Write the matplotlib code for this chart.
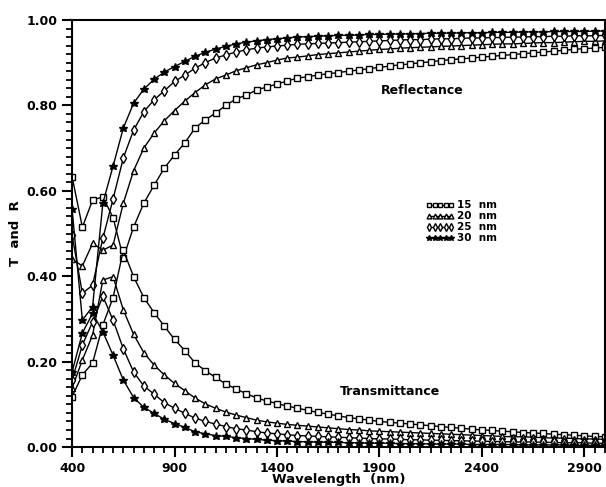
import matplotlib
matplotlib.use("Agg")
import matplotlib.pyplot as plt
import numpy as np

# wavelength grid (nm), one point every 50 nm
wavelength = np.arange(400, 3001, 50)

# reflectance, film thickness 15 / 20 / 25 / 30 nm
r_15 = [0.633, 0.515, 0.578, 0.586, 0.537, 0.443, 0.515, 0.571, 0.613, 0.653,
        0.684, 0.712, 0.747, 0.766, 0.782, 0.800, 0.815, 0.824, 0.836, 0.843,
        0.850, 0.857, 0.864, 0.867, 0.871, 0.874, 0.877, 0.880, 0.883, 0.886,
        0.889, 0.892, 0.895, 0.897, 0.900, 0.902, 0.905, 0.907, 0.909, 0.911,
        0.913, 0.915, 0.917, 0.919, 0.921, 0.923, 0.925, 0.927, 0.929, 0.931,
        0.933, 0.934, 0.936]
r_20 = [0.440, 0.424, 0.477, 0.461, 0.473, 0.571, 0.647, 0.700, 0.735, 0.764,
        0.788, 0.810, 0.830, 0.848, 0.862, 0.871, 0.881, 0.888, 0.895, 0.900,
        0.906, 0.911, 0.913, 0.916, 0.919, 0.921, 0.923, 0.925, 0.927, 0.929,
        0.931, 0.932, 0.934, 0.935, 0.936, 0.937, 0.938, 0.939, 0.940, 0.941,
        0.942, 0.943, 0.944, 0.944, 0.945, 0.946, 0.947, 0.947, 0.948, 0.949,
        0.950, 0.950, 0.951]
r_25 = [0.496, 0.360, 0.379, 0.489, 0.581, 0.677, 0.742, 0.785, 0.813, 0.834,
        0.856, 0.871, 0.887, 0.900, 0.911, 0.918, 0.925, 0.930, 0.934, 0.937,
        0.939, 0.941, 0.943, 0.944, 0.945, 0.946, 0.947, 0.948, 0.949, 0.950,
        0.951, 0.952, 0.953, 0.954, 0.954, 0.955, 0.956, 0.956, 0.957, 0.958,
        0.958, 0.959, 0.959, 0.960, 0.960, 0.961, 0.961, 0.962, 0.962, 0.963,
        0.963, 0.963, 0.964]
r_30 = [0.557, 0.297, 0.329, 0.571, 0.658, 0.747, 0.805, 0.838, 0.861, 0.878,
        0.891, 0.903, 0.915, 0.924, 0.932, 0.938, 0.944, 0.948, 0.951, 0.954,
        0.956, 0.958, 0.960, 0.961, 0.962, 0.963, 0.964, 0.964, 0.965, 0.966,
        0.966, 0.967, 0.967, 0.968, 0.968, 0.969, 0.969, 0.969, 0.970, 0.970,
        0.970, 0.971, 0.971, 0.971, 0.972, 0.972, 0.972, 0.973, 0.973, 0.973,
        0.973, 0.974, 0.974]

# transmittance, same thicknesses
t_15 = [0.118, 0.169, 0.197, 0.286, 0.350, 0.461, 0.399, 0.350, 0.315, 0.283,
        0.252, 0.226, 0.197, 0.179, 0.163, 0.148, 0.136, 0.125, 0.115, 0.108,
        0.102, 0.096, 0.091, 0.086, 0.081, 0.077, 0.073, 0.069, 0.066, 0.063,
        0.060, 0.058, 0.056, 0.054, 0.052, 0.050, 0.048, 0.046, 0.044, 0.042,
        0.040, 0.039, 0.037, 0.036, 0.034, 0.033, 0.032, 0.030, 0.029, 0.028,
        0.026, 0.025, 0.024]
t_20 = [0.138, 0.204, 0.262, 0.391, 0.399, 0.321, 0.264, 0.221, 0.192, 0.169,
        0.149, 0.132, 0.115, 0.101, 0.091, 0.082, 0.075, 0.069, 0.063, 0.059,
        0.056, 0.053, 0.051, 0.049, 0.047, 0.045, 0.043, 0.041, 0.040, 0.038,
        0.037, 0.036, 0.035, 0.034, 0.033, 0.032, 0.031, 0.030, 0.029, 0.028,
        0.027, 0.026, 0.025, 0.024, 0.024, 0.023, 0.022, 0.021, 0.021, 0.020,
        0.019, 0.019, 0.018]
t_25 = [0.157, 0.239, 0.293, 0.353, 0.297, 0.230, 0.176, 0.143, 0.124, 0.104,
        0.091, 0.079, 0.068, 0.060, 0.054, 0.048, 0.043, 0.040, 0.036, 0.033,
        0.031, 0.029, 0.027, 0.026, 0.025, 0.024, 0.023, 0.022, 0.021, 0.020,
        0.019, 0.019, 0.018, 0.017, 0.017, 0.016, 0.016, 0.015, 0.015, 0.014,
        0.014, 0.013, 0.013, 0.012, 0.012, 0.012, 0.011, 0.011, 0.010, 0.010,
        0.010, 0.009, 0.009]
t_30 = [0.176, 0.267, 0.313, 0.270, 0.215, 0.157, 0.116, 0.093, 0.079, 0.065,
        0.055, 0.046, 0.036, 0.031, 0.027, 0.025, 0.022, 0.020, 0.018, 0.016,
        0.015, 0.014, 0.013, 0.012, 0.012, 0.011, 0.011, 0.010, 0.010, 0.009,
        0.009, 0.009, 0.008, 0.008, 0.008, 0.007, 0.007, 0.007, 0.007, 0.006,
        0.006, 0.006, 0.006, 0.006, 0.005, 0.005, 0.005, 0.005, 0.005, 0.004,
        0.004, 0.004, 0.004]

labels = ["15  nm", "20  nm", "25  nm", "30  nm"]
markers = ["s", "^", "d", "*"]
fills = ["white", "white", "white", "black"]
sizes = [5, 5, 5.5, 6.2]

plt.rcParams['font.family'] = ['DejaVu Sans']
plt.rcParams['font.weight'] = 'bold'

fig = plt.figure(figsize=(6.06, 4.87), dpi=100)
ax = fig.add_axes([0.119, 0.082, 0.879, 0.877])

refl = [r_15, r_20, r_25, r_30]
trans = [t_15, t_20, t_25, t_30]
handles = []
for i in range(4):
    h, = ax.plot(wavelength, refl[i], color="black", lw=1, marker=markers[i],
                 ms=sizes[i], mfc=fills[i], mec="black", mew=1)
    ax.plot(wavelength, trans[i], color="black", lw=1, marker=markers[i],
            ms=sizes[i], mfc=fills[i], mec="black", mew=1)
    handles.append(h)

ax.set_xlim(400, 3000)
ax.set_ylim(0, 1)
ax.set_xticks([400, 900, 1400, 1900, 2400, 2900])
ax.set_xticks(np.arange(400, 3001, 50), minor=True)
ax.set_yticks([0, 0.2, 0.4, 0.6, 0.8, 1.0])
ax.set_yticks(np.arange(0, 1.001, 0.02), minor=True)
ax.set_yticklabels(["%.2f" % v for v in [0, 0.2, 0.4, 0.6, 0.8, 1.0]])
ax.tick_params(which="major", direction="out", length=7, width=1.5, labelsize=9)
ax.tick_params(which="minor", direction="out", length=4, width=1.3)
for s in ax.spines.values():
    s.set_linewidth(1.5)

ax.set_xlabel("Wavelength  (nm)", fontsize=9.5, fontweight="bold", labelpad=-1)
ax.set_ylabel("T  and  R", fontsize=9.5, fontweight="bold", labelpad=3)

ax.text(2110, 0.836, "Reflectance", fontsize=9, fontweight="bold", ha="center", va="center")
ax.text(1950, 0.129, "Transmittance", fontsize=9, fontweight="bold", ha="center", va="center")

leg = ax.legend(handles, labels, loc="upper left", bbox_to_anchor=(0.655, 0.59),
                frameon=False, numpoints=5, handlelength=2.7, handletextpad=0.3,
                labelspacing=0.1, fontsize=7.5, markerscale=0.7, borderpad=0)

fig.savefig("out.png", dpi=100)
